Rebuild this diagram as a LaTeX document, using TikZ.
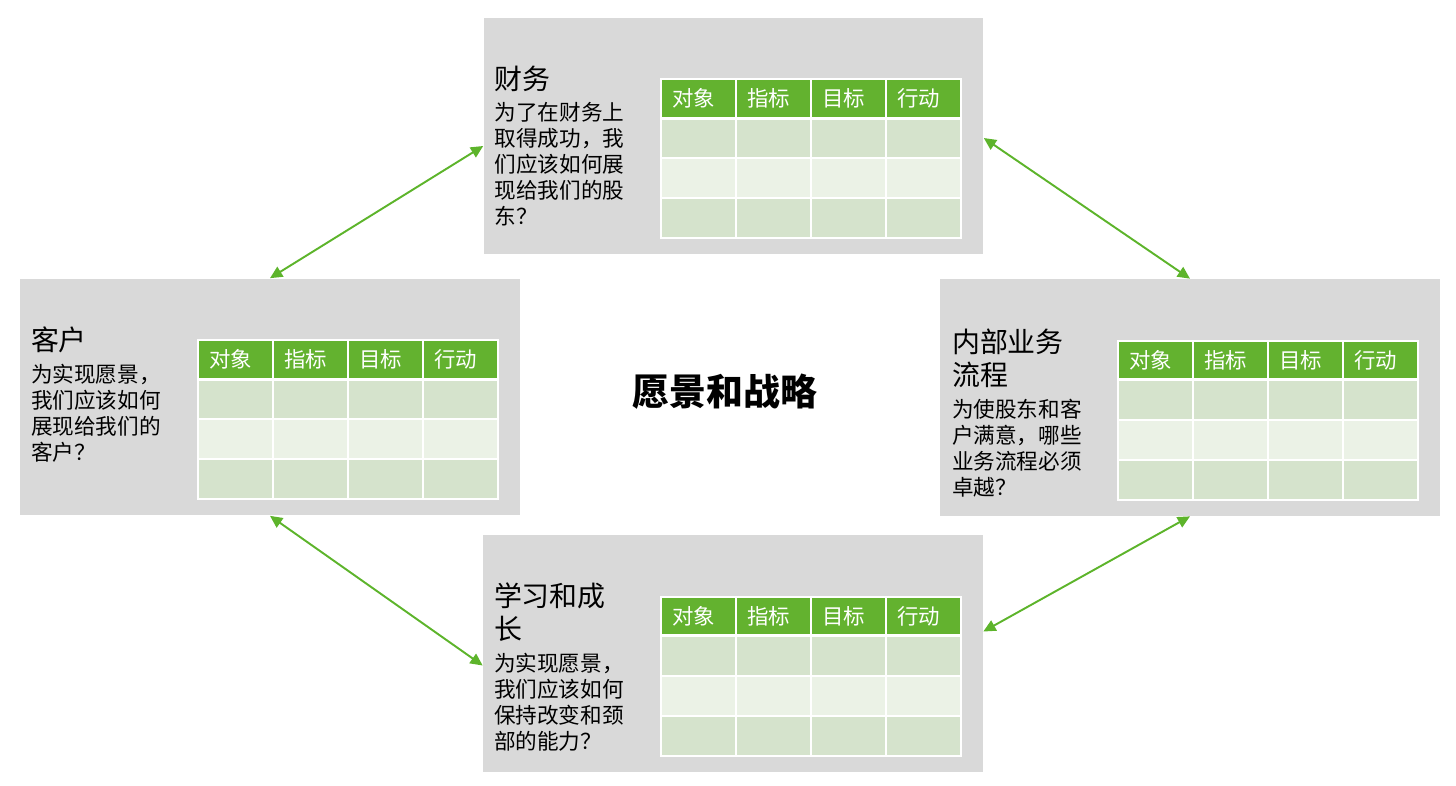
\documentclass[tikz,border=0pt]{standalone}
\usepackage{fontspec}
\usepackage{xcolor}
\usepackage{tikz}
\usetikzlibrary{positioning,calc,arrows.meta}
\newfontfamily\cjk{Noto Sans CJK SC}
\definecolor{panelgray}{HTML}{D9D9D9}
\definecolor{hdgreen}{HTML}{63B22F}
\definecolor{rowgreen}{HTML}{D5E3CC}
\definecolor{rowlight}{HTML}{EBF2E6}
\definecolor{linkgreen}{HTML}{5DB42B}
% table of one perspective, placed inside box #1
\newcommand{\kpitable}[1]{%
	\begin{scope}[shift={($(#1.north west)+(178,62)$)}]
		\fill[hdgreen] (0,0) rectangle (300,39);
		\fill[rowgreen] (0,39) rectangle (300,79);
		\fill[rowlight] (0,79) rectangle (300,119);
		\fill[rowgreen] (0,119) rectangle (300,159);
		\foreach \h [count=\i from 0] in {对象,指标,目标,行动}
			\node[hdtext] (#1-h\i) at (\i*75+11,19.5) {\h};
		\draw[white,line width=1.2pt] (0,0) rectangle (300,159);
		\foreach \x in {75,150,225}
			\draw[white,line width=1.2pt] (\x,0) -- (\x,159);
		\draw[white,line width=1.8pt] (0,39) -- (300,39);
		\foreach \y in {79,119}
			\draw[white,line width=1.2pt] (0,\y) -- (300,\y);
	\end{scope}}

\begin{document}
\begin{tikzpicture}[x=0.02cm,y=-0.02cm,
		panel/.style={fill=panelgray,minimum width=10cm,minimum height=4.74cm,inner sep=0pt},
		hdtext/.style={anchor=west,inner sep=0pt,text=white,font=\cjk\fontsize{12.2pt}{14pt}\selectfont},
		title/.style={anchor=north west,inner sep=0pt,align=left,font=\cjk\fontsize{15.9pt}{18.8pt}\selectfont},
		body/.style={anchor=north west,inner sep=0pt,align=left,font=\cjk\fontsize{12.3pt}{14.8pt}\selectfont},
		link/.style={linkgreen,line width=1.1pt,{Triangle[length=7pt,width=6.5pt]}-{Triangle[length=7pt,width=6.5pt]}}]
	\useasboundingbox (0,0) rectangle (1456,785);
	\node[panel] (fin) at (733.5,136) {};
	\node[panel] (cust) at (270,397) {};
	\node[panel] (proc) at (1190,397.5) {};
	\node[panel] (learn) at (733,653.5) {};
	\kpitable{fin}
	\kpitable{cust}
	\kpitable{proc}
	\kpitable{learn}
	\node[title] (fin-t) at ($(fin.north west)+(11,48)$) {财务};
	\node[body,below=6pt of fin-t.south west,anchor=north west] (fin-b) {为了在财务上\\取得成功，我\\们应该如何展\\现给我们的股\\东？};
	\node[title] (cust-t) at ($(cust.north west)+(11,48)$) {客户};
	\node[body,below=6pt of cust-t.south west,anchor=north west] (cust-b) {为实现愿景，\\我们应该如何\\展现给我们的\\客户？};
	\node[title] (proc-t) at ($(proc.north west)+(12,50)$) {内部业务\\流程};
	\node[body,below=6pt of proc-t.south west,anchor=north west] (proc-b) {为使股东和客\\户满意，哪些\\业务流程必须\\卓越？};
	\node[title] (learn-t) at ($(learn.north west)+(11,48)$) {学习和成\\长};
	\node[body,below=6pt of learn-t.south west,anchor=north west] (learn-b) {为实现愿景，\\我们应该如何\\保持改变和颈\\部的能力？};
	\node[font=\cjk\bfseries\fontsize{21pt}{24pt}\selectfont] (vision) at (725,392) {愿景和战略};
	% links between the four perspectives
	\coordinate (fin-l) at ($(fin.west)+(0,10)$);
	\coordinate (fin-r) at ($(fin.east)+(0,2)$);
	\coordinate (learn-l) at ($(learn.west)+(0,12)$);
	\coordinate (learn-r) at ($(learn.east)+(0,-22)$);
	\draw[link] (cust.north) -- (fin-l);
	\draw[link] (fin-r) -- (proc.north);
	\draw[link] (cust.south) -- (learn-l);
	\draw[link] (learn-r) -- (proc.south);
\end{tikzpicture}
\end{document}
